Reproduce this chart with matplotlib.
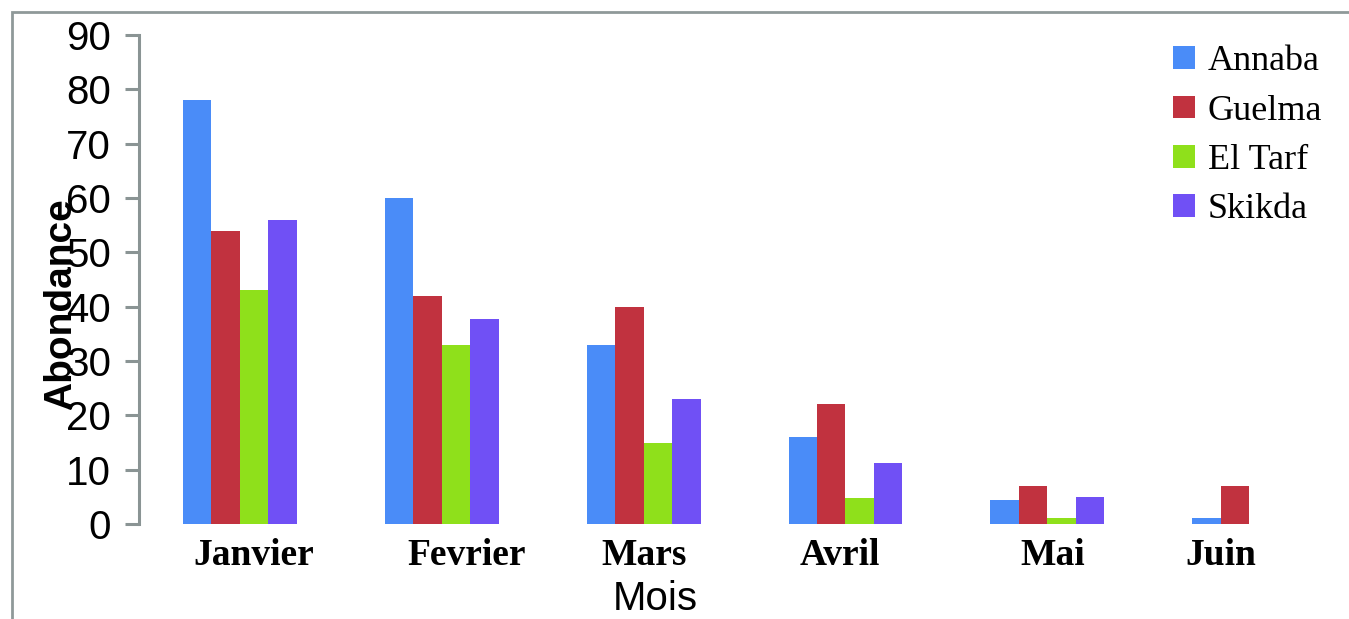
"""Abondance mensuelle par région (barres groupées)."""

import matplotlib
matplotlib.use("Agg")
import matplotlib.pyplot as plt
from matplotlib.patches import Rectangle
from matplotlib.transforms import ScaledTranslation
import numpy as np

mois = ["Janvier", "Fevrier", "Mars", "Avril", "Mai", "Juin"]
regions = ["Annaba", "Guelma", "El Tarf", "Skikda"]
annaba = [78, 60, 33, 16, 4.4, 1.1]
guelma = [54, 42, 40, 22, 7, 7]
el_tarf = [43, 33, 15, 4.8, 1.1, 0]
skikda = [56, 37.7, 23, 11.2, 5, 0]
couleurs = ["#4a8cf8", "#c1323f", "#8fe01b", "#7050f5"]

series = [annaba, guelma, el_tarf, skikda]

fig = plt.figure(figsize=(13.49, 6.19), dpi=100)
ax = fig.add_axes([139 / 1349, 1 - 524 / 619, 1201 / 1349, (524 - 35) / 619])

x = np.arange(len(mois))
w = 0.141
for i, (nom, vals, c) in enumerate(zip(regions, series, couleurs)):
    ax.bar(x + (i - 1.5) * w, vals, width=w, color=c, label=nom, linewidth=0)

ax.set_xlim(-0.5, 5.45)
ax.set_ylim(0, 90)
ax.set_yticks(range(0, 91, 10))
ax.set_xticks(x)
ax.set_xticklabels(mois, family="Liberation Serif", fontweight="bold", fontsize=27)
ax.tick_params(axis="x", length=0, pad=10)
ax.tick_params(axis="y", length=10, width=2.2, color="#8a9494", pad=10,
               labelsize=29)
for lab in ax.get_yticklabels():
    lab.set_family("Liberation Sans")

# les étiquettes de mois ne sont pas tout à fait centrées dans l'original (px)
decal = [14, 25, 0, -6, 5, -28]
for lab, dx in zip(ax.get_xticklabels(), decal):
    lab.set_transform(lab.get_transform() + ScaledTranslation(dx / 100, 0, fig.dpi_scale_trans))

for s in ("top", "right", "bottom"):
    ax.spines[s].set_visible(False)
ax.spines["left"].set_color("#8a9494")
ax.spines["left"].set_linewidth(2.2)

ax.set_xlabel("Mois", family="Liberation Sans", fontsize=29)
ax.xaxis.set_label_coords((655 - 139) / 1201, -0.115)
ax.set_ylabel("Abondance", family="Liberation Sans", fontweight="bold",
              fontsize=28)
ax.yaxis.set_label_coords(-0.05, 0.45)

ax.legend(loc="upper right", bbox_to_anchor=(1.012, 1.045), frameon=False,
          prop={"family": "Liberation Serif", "size": 26},
          handlelength=0.6, handleheight=0.6, handletextpad=0.35,
          labelspacing=0.45)

# cadre extérieur gris
fig.patches.append(Rectangle((12 / 1349, -0.1), 1.2, 1.1 - 12 / 619,
                             transform=fig.transFigure, fill=False,
                             edgecolor="#8f9999", linewidth=2))

fig.savefig("out.png", dpi=100)
